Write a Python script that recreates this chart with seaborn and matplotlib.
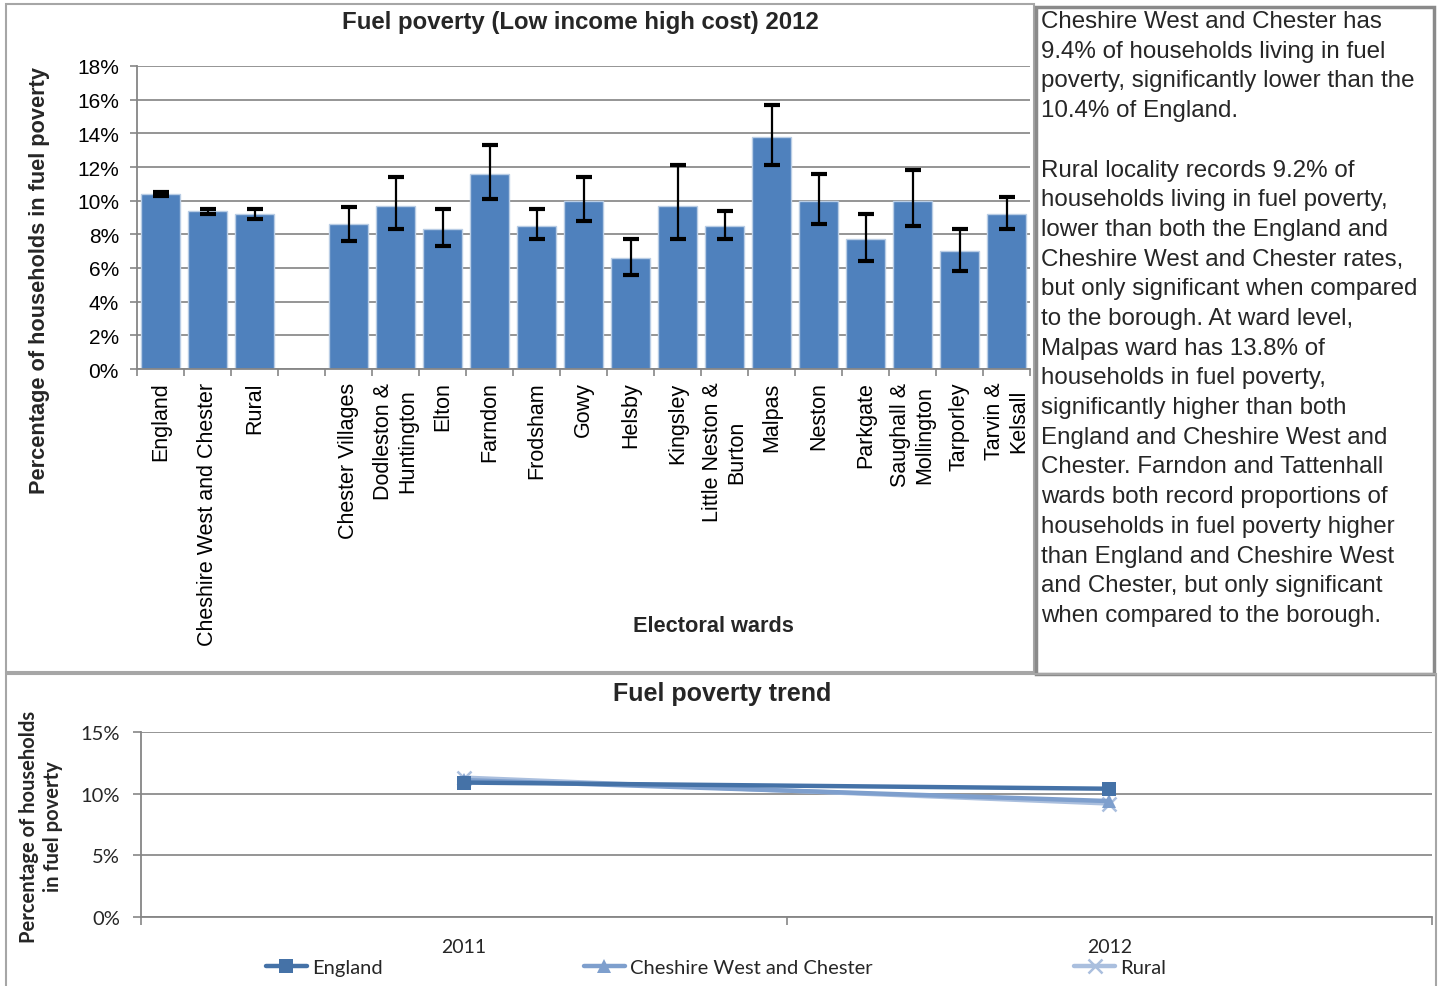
import numpy as np
import pandas as pd
import matplotlib
matplotlib.use("Agg")
import matplotlib.pyplot as plt
import seaborn as sns
from matplotlib.colors import to_hex
from matplotlib.patches import Rectangle
from matplotlib.ticker import FuncFormatter, FixedLocator

# ---- Fuel poverty 2012 by area (percent of households) ----
areas = ["England", "Cheshire West and Chester", "Rural",
         "Chester Villages", "Dodleston & Huntington", "Elton", "Farndon",
         "Frodsham", "Gowy", "Helsby", "Kingsley", "Little Neston & Burton",
         "Malpas", "Neston", "Parkgate", "Saughall & Mollington",
         "Tarporley", "Tarvin & Kelsall"]
poverty_2012 = [10.4, 9.4, 9.2,
                8.6, 9.7, 8.3, 11.6, 8.5, 10.0, 6.6, 9.7, 8.5,
                13.8, 10.0, 7.7, 10.0, 7.0, 9.2]
ci_low = [10.3, 9.2, 8.9,
          7.6, 8.3, 7.3, 10.1, 7.7, 8.8, 5.6, 7.7, 7.7,
          12.1, 8.6, 6.4, 8.5, 5.8, 8.3]
ci_high = [10.5, 9.5, 9.5,
           9.6, 11.4, 9.5, 13.3, 9.5, 11.4, 7.7, 12.1, 9.4,
           15.7, 11.6, 9.2, 11.8, 8.3, 10.2]

# category order on the axis, with an empty slot separating the wards
gap = " "
category_order = areas[:3] + [gap] + areas[3:]
tick_labels = ["England", "Cheshire West and Chester", "Rural", "",
               "Chester Villages", "Dodleston &\nHuntington", "Elton", "Farndon",
               "Frodsham", "Gowy", "Helsby", "Kingsley", "Little Neston &\nBurton",
               "Malpas", "Neston", "Parkgate", "Saughall &\nMollington",
               "Tarporley", "Tarvin &\nKelsall"]
bar_ticks = [0, 2, 4, 6, 8, 10, 12, 14, 16, 18]

# ---- Fuel poverty trend ----
trend_years = ["2011", "2012"]
trend_england = [10.9, 10.4]
trend_cwac = [11.1, 9.4]
trend_rural = [11.3, 9.2]
trend_ticks = [0, 5, 10, 15]

summary_lines = [
    "Cheshire West and Chester has",
    "9.4% of households living in fuel",
    "poverty, significantly lower than the",
    "10.4% of England.",
    "",
    "Rural locality records 9.2% of",
    "households living in fuel poverty,",
    "lower than both the England and",
    "Cheshire West and Chester rates,",
    "but only significant when compared",
    "to the borough. At ward level,",
    "Malpas ward has 13.8% of",
    "households in fuel poverty,",
    "significantly higher than both",
    "England and Cheshire West and",
    "Chester. Farndon and Tattenhall",
    "wards both record proportions of",
    "households in fuel poverty higher",
    "than England and Cheshire West",
    "and Chester, but only significant",
    "when compared to the borough.",
]

sns.set_theme(style="white")
plt.rcParams["font.family"] = ["Liberation Sans", "DejaVu Sans"]

W, H = 1441, 987
fig = plt.figure(figsize=(W / 100, H / 100), dpi=100)


def fx(px):
    return px / W


def fy(py):
    return 1 - py / H


GRID = "#8C8C8C"
AXIS = "#868686"
BAR = "#4F81BD"

# ---------------- bar chart ----------------
ax = fig.add_axes([fx(137), fy(370), fx(1030) - fx(137), fy(67) - fy(370)])
bars = pd.DataFrame({"area": areas, "pct": poverty_2012,
                     "lo": ci_low, "hi": ci_high})
sns.barplot(data=bars, x="area", y="pct", order=category_order, color=BAR,
            saturation=1, width=0.83, edgecolor="#B9CDE5", linewidth=1,
            errorbar=None, ax=ax, zorder=2)
pos = [category_order.index(a) for a in bars["area"]]
ax.errorbar(pos, bars["pct"],
            yerr=[bars["pct"] - bars["lo"], bars["hi"] - bars["pct"]],
            fmt="none", ecolor="black", elinewidth=1.6, capsize=6,
            capthick=3, zorder=3)

ax.set_xlim(-0.5, len(category_order) - 0.5)
ax.set_ylim(0, 18)
ax.set_yticks(bar_ticks)
ax.yaxis.set_major_formatter(FuncFormatter(lambda v, p: f"{v:.0f}%"))
ax.yaxis.grid(True, color=GRID, lw=1.3)
ax.set_axisbelow(True)
ax.set_xticks(range(len(category_order)))
ax.set_xticklabels(tick_labels, rotation=90, ha="center", va="top",
                   multialignment="center", fontsize=15.5, color="black")
ax.xaxis.set_minor_locator(FixedLocator(np.arange(-0.5, len(category_order), 1.0)))
ax.tick_params(axis="x", which="major", length=0, pad=9)
ax.tick_params(axis="x", which="minor", length=5, width=1.2, color=AXIS,
               direction="out", bottom=True)
ax.tick_params(axis="y", length=5, width=1.2, color=AXIS, direction="out",
               left=True, labelsize=15, pad=8, labelcolor="black")
for s in ("top", "right"):
    ax.spines[s].set_visible(False)
for s in ("left", "bottom"):
    ax.spines[s].set_color(AXIS)
    ax.spines[s].set_linewidth(1.3)
ax.set_xlabel("")
ax.set_ylabel("")

fig.text(fx(580), fy(23), "Fuel poverty (Low income high cost) 2012",
         ha="center", va="center", fontsize=17.3, fontweight="bold")
fig.text(fx(40), fy(281), "Percentage of households in fuel poverty",
         rotation=90, ha="center", va="center", fontsize=15.7,
         fontweight="bold")
fig.text(fx(713), fy(626), "Electoral wards", ha="center", va="center",
         fontsize=15.7, fontweight="bold")

# ---------------- summary text box ----------------
y0, dy = 22, 29.7
for i, line in enumerate(summary_lines):
    if line:
        fig.text(fx(1041), fy(y0 + i * dy), line, ha="left", va="center",
                 fontsize=17.4)

# ---------------- trend chart ----------------
calibri_like = ["Lato", "DejaVu Sans"]
ax2 = fig.add_axes([fx(141), fy(918), fx(1432) - fx(141), fy(733) - fy(918)])
trend = pd.DataFrame({
    "year": trend_years * 3,
    "value": trend_england + trend_cwac + trend_rural,
    "area": ["England"] * 2 + ["Cheshire West and Chester"] * 2 + ["Rural"] * 2,
})
palette = {"England": "#4572A7", "Cheshire West and Chester": "#7E9FCD",
           "Rural": "#AABFDE"}
markers = {"England": "s", "Cheshire West and Chester": "^", "Rural": "X"}
sns.lineplot(data=trend, x="year", y="value", hue="area", style="area",
             markers=markers, dashes=False, palette=palette, linewidth=3.2,
             markersize=10.5, sort=False, ax=ax2,
             hue_order=["Rural", "Cheshire West and Chester", "England"])

handles, labels = ax2.get_legend_handles_labels()
ax2.get_legend().remove()
lookup = dict(zip(labels, handles))
rural_hex = to_hex(palette["Rural"])


def restyle(line):
    # the Rural series uses a thin cross marker; others have no outline
    if to_hex(line.get_color()) == rural_hex:
        line.set_marker("x")
        line.set_markeredgewidth(1.8)
        line.set_markeredgecolor(palette["Rural"])
    else:
        line.set_markeredgewidth(0)


for ln in ax2.lines:
    restyle(ln)
leg_order = ["England", "Cheshire West and Chester", "Rural"]
for k in leg_order:
    restyle(lookup[k])

ax2.set_xlim(-0.5, 1.5)
ax2.set_ylim(0, 15)
ax2.set_yticks(trend_ticks)
ax2.yaxis.set_major_formatter(FuncFormatter(lambda v, p: f"{v:.0f}%"))
ax2.yaxis.grid(True, color=GRID, lw=1.3)
ax2.set_axisbelow(True)
ax2.set_xticks([0, 1])
ax2.set_xticklabels(trend_years, family=calibri_like, fontsize=14)
ax2.xaxis.set_minor_locator(FixedLocator([-0.5, 0.5, 1.5]))
ax2.tick_params(axis="x", which="major", length=0, pad=15)
ax2.tick_params(axis="x", which="minor", length=6, width=1.2, color=AXIS,
                direction="out", bottom=True)
ax2.tick_params(axis="y", length=6, width=1.2, color=AXIS, direction="out",
                left=True, pad=9)
for lab in ax2.get_yticklabels():
    lab.set_family(calibri_like)
    lab.set_fontsize(14.5)
for s in ("top", "right"):
    ax2.spines[s].set_visible(False)
for s in ("left", "bottom"):
    ax2.spines[s].set_color(AXIS)
    ax2.spines[s].set_linewidth(1.3)
ax2.set_xlabel("")
ax2.set_ylabel("")

fig.legend([lookup[k] for k in leg_order], leg_order, loc="center",
           bbox_to_anchor=(fx(716), fy(968)), ncol=3, frameon=False,
           columnspacing=10.0, handlelength=2.05, handletextpad=0.25,
           prop={"family": calibri_like, "size": 14.5})

fig.text(fx(722), fy(694), "Fuel poverty trend", ha="center", va="center",
         fontsize=18, fontweight="bold")
fig.text(fx(41), fy(827), "Percentage of households\nin fuel poverty",
         rotation=90, ha="center", va="center", multialignment="center",
         fontsize=14.5, fontweight="bold", family=calibri_like)

# ---------------- panel frames ----------------
frames = [((6, 5), (1034, 673), "#A6A6A6", 1.5),
          ((1036, 8), (1434, 675), "#8A8A8A", 2.5),
          ((6, 675), (1436, 990), "#A6A6A6", 1.5)]
for (x0, y0p), (x1, y1p), col, lw in frames:
    fig.patches.append(Rectangle((fx(x0), fy(y1p)), fx(x1) - fx(x0),
                                 fy(y0p) - fy(y1p), transform=fig.transFigure,
                                 fill=False, edgecolor=col, linewidth=lw,
                                 zorder=0))

fig.savefig("out.png", dpi=100)
